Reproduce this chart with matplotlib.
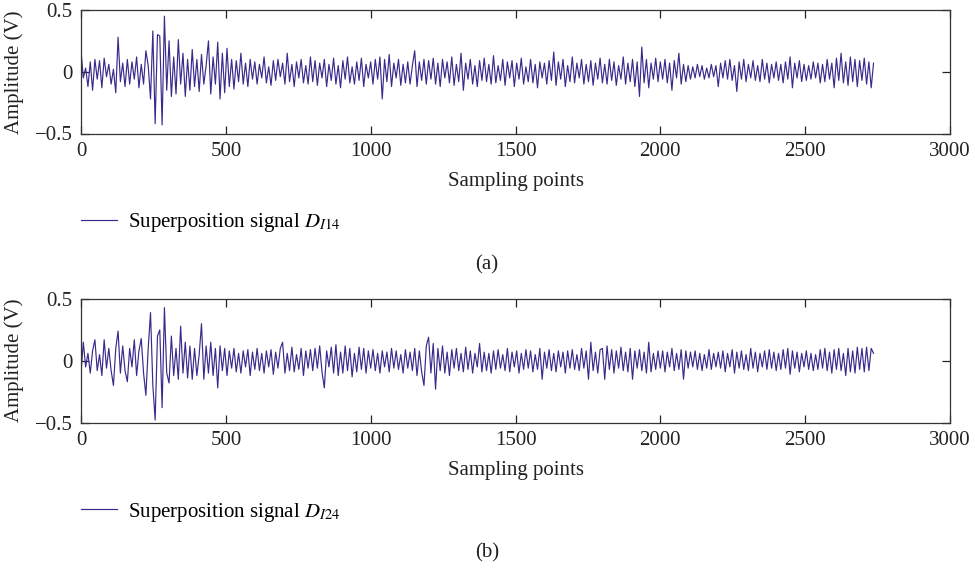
import matplotlib
matplotlib.use('Agg')
import matplotlib.pyplot as plt
import numpy as np

plt.rcParams['font.family'] = ['Liberation Serif', 'DejaVu Serif']
plt.rcParams['mathtext.fontset'] = 'stix'

# signal values, one value every 8 samples
step = 8
sig_a = [
    0.17, -0.05, 0.03, -0.12, 0.08, -0.15, 0.1, -0.06, 0.09, -0.13, 0.11, -0.04, 0.06, -0.1, 0.02, -0.17, 0.28, -0.08, 0.07, -0.12, 0.1, -0.1, 0.08, -0.06, 0.12,
    -0.13, 0.06, -0.1, 0.17, 0.05, -0.22, 0.33, -0.42, 0.3, 0.29, -0.43, 0.45, -0.15, 0.25, -0.2, 0.12, -0.18, 0.26, -0.1, 0.15, -0.2, 0.1, -0.15, 0.18, -0.12,
    0.1, -0.16, 0.14, -0.1, 0.05, 0.25, -0.18, 0.12, -0.1, 0.24, -0.22, 0.15, -0.17, 0.19, -0.12, 0.1, -0.14, 0.09, -0.08, 0.15, -0.1, 0.07, -0.12, 0.1, -0.06,
    0.08, -0.1, 0.06, -0.05, 0.12, -0.09, 0.04, -0.11, 0.09, -0.07, 0.1, -0.04, 0.07, -0.1, 0.15, -0.08, 0.06, -0.12, 0.08, -0.05, 0.1, -0.09, 0.05, -0.1, 0.12,
    -0.08, 0.09, -0.11, 0.07, -0.05, 0.1, -0.12, 0.06, -0.07, 0.11, -0.1, 0.05, -0.13, 0.09, -0.06, 0.12, -0.09, 0.04, -0.1, 0.08, -0.07, 0.11, -0.12, 0.06, -0.05,
    0.08, -0.1, 0.1, -0.06, 0.12, -0.22, 0.1, -0.08, 0.14, -0.12, 0.07, -0.05, 0.1, -0.11, 0.06, -0.09, 0.08, -0.1, 0.05, 0.17, -0.12, 0.08, -0.07, 0.1, -0.1,
    0.09, -0.06, 0.11, -0.1, 0.07, -0.12, 0.1, -0.05, 0.08, -0.09, 0.12, -0.11, 0.06, -0.08, 0.15, -0.15, 0.07, -0.06, 0.1, -0.1, 0.05, -0.12, 0.09, -0.07, 0.11,
    -0.08, 0.06, -0.1, 0.13, -0.09, 0.05, -0.07, 0.1, -0.11, 0.08, -0.05, 0.09, -0.12, 0.07, -0.06, 0.11, -0.1, 0.04, -0.08, 0.1, -0.09, 0.06, -0.13, 0.08, -0.05,
    0.07, -0.1, 0.09, -0.07, 0.16, -0.11, 0.08, -0.06, 0.1, -0.12, 0.05, -0.08, 0.12, -0.09, 0.07, -0.05, 0.1, -0.1, 0.06, -0.08, 0.09, -0.11, 0.07, -0.06, 0.11,
    -0.09, 0.06, -0.1, 0.1, -0.07, 0.08, -0.11, 0.05, -0.06, 0.12, -0.1, 0.07, -0.08, 0.1, -0.12, 0.08, -0.2, 0.2, -0.09, 0.1, -0.13, 0.07, -0.06, 0.11, -0.08,
    0.08, -0.06, 0.1, -0.09, 0.07, -0.15, 0.09, -0.05, 0.15, -0.1, 0.06, -0.08, 0.05, -0.06, 0.04, -0.05, 0.06, -0.04, 0.05, -0.06, 0.03, -0.05, 0.06, -0.04, 0.05,
    -0.12, 0.07, -0.05, 0.09, -0.06, 0.1, -0.07, 0.05, -0.16, 0.08, -0.06, 0.1, -0.08, 0.06, -0.05, 0.09, -0.07, 0.05, -0.08, 0.1, -0.06, 0.07, -0.09, 0.06, -0.05,
    0.08, -0.07, 0.06, -0.09, 0.08, -0.06, 0.12, -0.13, 0.07, -0.05, 0.09, -0.08, 0.06, -0.07, 0.05, -0.06, 0.08, -0.05, 0.07, -0.09, 0.06, -0.08, 0.1, -0.06, 0.07,
    -0.13, 0.11, -0.07, 0.15, -0.09, 0.08, -0.11, 0.12, -0.08, 0.1, -0.12, 0.09, -0.07, 0.11, -0.1, 0.08, -0.13, 0.07,
]
sig_b = [
    -0.1, 0.15, -0.05, 0.06, -0.1, 0.08, 0.17, -0.08, 0.05, -0.12, 0.17, -0.06, 0.1, -0.08, -0.2, 0.1, 0.24, -0.1, 0.12, -0.08, -0.17, 0.1, -0.05, 0.17, -0.12,
    0.08, 0.18, -0.1, -0.28, 0.1, 0.39, -0.2, -0.48, 0.2, 0.25, -0.38, 0.43, -0.1, -0.18, 0.2, -0.12, 0.1, -0.15, 0.28, -0.1, 0.15, -0.14, 0.12, -0.15, 0.1,
    -0.12, 0.05, 0.3, -0.15, 0.12, -0.1, 0.15, -0.12, 0.1, -0.22, 0.12, -0.08, 0.1, -0.12, 0.08, -0.06, 0.1, -0.09, 0.06, -0.1, 0.08, -0.05, 0.09, -0.12, 0.07,
    -0.07, 0.1, -0.08, 0.06, -0.1, 0.08, -0.05, 0.09, -0.11, 0.07, -0.06, 0.1, 0.15, -0.1, 0.06, -0.08, 0.11, -0.09, 0.05, -0.07, 0.1, -0.12, 0.08, -0.06, 0.09,
    -0.08, 0.1, -0.06, 0.12, -0.09, -0.22, 0.08, -0.05, 0.11, -0.1, 0.13, -0.12, 0.07, -0.1, 0.12, -0.08, 0.1, -0.13, 0.06, -0.09, 0.11, -0.07, 0.1, -0.1, 0.08,
    -0.06, 0.09, -0.08, 0.06, -0.1, 0.08, -0.05, 0.07, -0.09, 0.1, -0.06, 0.08, -0.07, 0.05, -0.1, 0.09, -0.06, 0.07, -0.08, 0.1, -0.12, 0.08, -0.09, -0.2, 0.12,
    0.19, -0.1, 0.14, -0.23, 0.1, -0.08, 0.12, -0.1, 0.07, -0.12, 0.09, -0.06, 0.1, -0.08, 0.06, -0.09, 0.11, -0.07, 0.08, -0.1, 0.06, -0.05, 0.14, -0.09, 0.07,
    -0.08, 0.06, -0.1, 0.08, -0.07, 0.09, -0.06, 0.05, -0.08, 0.1, -0.09, 0.07, -0.05, 0.08, -0.1, 0.06, -0.07, 0.09, -0.06, 0.08, -0.09, 0.05, -0.07, 0.1, -0.15,
    0.07, -0.06, 0.09, -0.08, 0.06, -0.09, 0.08, -0.05, 0.07, -0.1, 0.08, -0.06, 0.09, -0.07, 0.05, -0.08, 0.1, -0.06, 0.08, -0.15, 0.15, -0.08, 0.07, -0.1, 0.09,
    0.1, -0.15, 0.12, -0.07, 0.09, -0.1, 0.08, -0.06, 0.11, -0.08, 0.07, -0.09, 0.1, -0.15, 0.08, -0.06, 0.09, -0.08, 0.07, -0.1, 0.15, -0.09, 0.06, -0.07, 0.08,
    -0.06, 0.08, -0.09, 0.07, -0.05, 0.1, -0.08, 0.06, -0.07, 0.09, -0.15, 0.08, -0.06, 0.07, -0.05, 0.08, -0.07, 0.06, -0.08, 0.05, -0.06, 0.09, -0.07, 0.06, -0.05,
    0.07, -0.06, 0.08, -0.09, 0.06, -0.05, 0.09, -0.1, 0.07, -0.06, 0.08, -0.07, 0.05, -0.08, 0.1, -0.06, 0.07, -0.09, 0.06, -0.05, 0.08, -0.07, 0.09, -0.06, 0.07,
    -0.08, 0.06, -0.07, 0.09, -0.06, 0.1, -0.11, 0.08, -0.06, 0.07, -0.09, 0.06, -0.05, 0.08, -0.07, 0.06, -0.08, 0.05, -0.07, 0.09, -0.06, 0.1, -0.08, 0.07, -0.1,
    0.09, -0.07, 0.1, -0.08, 0.06, -0.12, 0.1, -0.09, 0.08, -0.1, 0.11, -0.07, 0.1, -0.09, 0.11, -0.08, 0.1, 0.06,
]

x_ticks = [0, 500, 1000, 1500, 2000, 2500, 3000]
y_ticks = [-0.5, 0, 0.5]
y_tick_labels = ['\u22120.5', '0', '0.5']
legend_labels = [r'Superposition signal $D_{I\mathrm{14}}$',
                 r'Superposition signal $D_{I\mathrm{24}}$']
captions = ['(a)', '(b)']

line_color = '#3a2a8c'
fs = 15

fig = plt.figure(figsize=(9.75, 5.7), dpi=100)

# axes rects in figure fractions, legend y and caption y (pixels from top)
panels = [
    ([81 / 975, (570 - 133.5) / 570, 869 / 975, 123.5 / 570], 223, 265, sig_a),
    ([81 / 975, (570 - 422.5) / 570, 869 / 975, 123.5 / 570], 512, 553, sig_b),
]

for i, (rect, leg_y, cap_y, sig) in enumerate(panels):
    ax = fig.add_axes(rect)
    xs = np.arange(len(sig)) * step
    ax.plot(xs, sig, color=line_color, lw=0.85, label=legend_labels[i])
    ax.set_xlim(0, 3000)
    ax.set_ylim(-0.5, 0.5)
    ax.set_xticks(x_ticks)
    ax.set_yticks(y_ticks)
    ax.set_yticklabels(y_tick_labels)
    ax.tick_params(direction='in', top=True, right=True, labelsize=fs,
                   length=6, width=0.9, pad=6, colors='#222222')
    for sp in ax.spines.values():
        sp.set_linewidth(0.9)
        sp.set_color('#333333')
    ax.set_xlabel('Sampling points', fontsize=fs, color='#222222')
    ax.xaxis.set_label_coords(0.5, -0.31)
    ax.set_ylabel('Amplitude (V)', fontsize=fs, color='#222222')
    ax.yaxis.set_label_coords(-0.066, 0.5)

    fig.legend(loc='center left', bbox_to_anchor=(81 / 975, 1 - leg_y / 570),
               frameon=False, fontsize=fs, handlelength=1.75, handletextpad=0.5,
               borderpad=0, borderaxespad=0, handles=ax.get_lines())
    fig.text(487 / 975, 1 - cap_y / 570, captions[i], ha='center', va='center',
             fontsize=fs, color='#222222')

fig.savefig('out.png', dpi=100)
